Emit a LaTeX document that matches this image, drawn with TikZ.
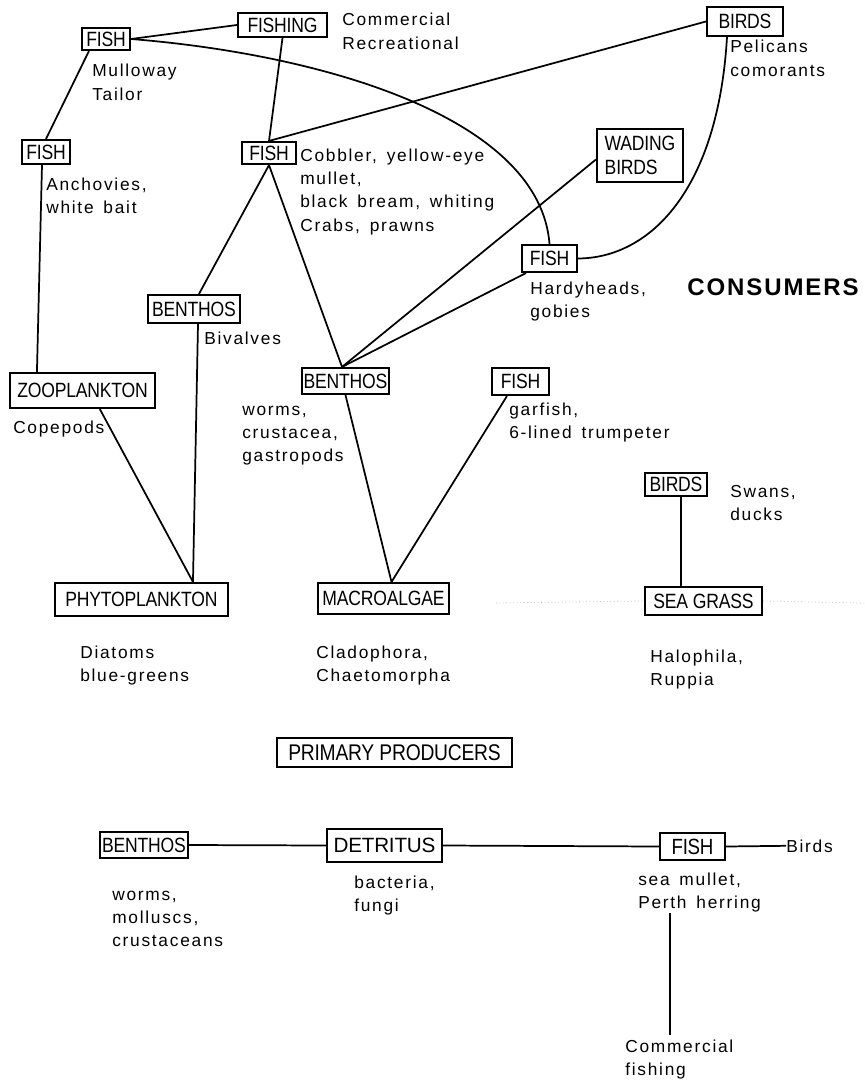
\documentclass[tikz,border=0pt]{standalone}
\usepackage{fontspec}
\setmainfont{Liberation Sans}
\newfontfamily\lblfont[LetterSpace=10,WordSpace=1.5]{Liberation Sans}
\newfontfamily\bxfont[LetterSpace=-1]{Liberation Sans}
\newfontfamily\bxcond[FakeStretch=0.85,LetterSpace=-1]{Liberation Sans}
\newfontfamily\bigfont[LetterSpace=8]{Liberation Sans}
\usetikzlibrary{calc}
\newcommand\lbl[1]{\begin{tabular}[t]{@{}l@{}}#1\end{tabular}}
\begin{document}
\begin{tikzpicture}[x=0.75pt,y=-0.75pt,
  bx/.style 2 args={draw, line width=1.6pt, inner sep=0pt,
    minimum width=#1*0.75pt, minimum height=#2*0.75pt,
    font=\bxcond\fontsize{15.5}{17}\selectfont},
  txt/.style={anchor=base west, inner sep=0pt,
    font=\lblfont\fontsize{13}{17.6}\selectfont},
  link/.style={line width=1.3pt},
  faint/.style={draw=black!25, line width=0.6pt, dotted}]
\fill[white] (0,0) rectangle (864,1081);
\useasboundingbox (0,0) rectangle (864,1081);

% boxes
\node[bx={48}{22}] (fishA) at (106,39) {FISH};
\node[bx={89}{24}] (fishing) at (282.5,25) {FISHING};
\node[bx={76}{29}] (birdsA) at (745,21.5) {BIRDS};
\node[bx={48}{24}] (fishB) at (46,152) {FISH};
\node[bx={54}{22}] (fishC) at (269,153) {FISH};
\node[bx={86}{53}, align=left, font=\bxcond\fontsize{15.5}{18.5}\selectfont] (wading) at (640,155.5) {WADING\\BIRDS};
\node[bx={55}{27}] (fishD) at (549.5,258.5) {FISH};
\node[bx={92}{28}] (benthA) at (194,309) {BENTHOS};
\node[bx={145}{35}] (zoo) at (82.5,390.5) {ZOOPLANKTON};
\node[bx={87}{26}] (benthB) at (345.5,381) {BENTHOS};
\node[bx={57}{27}] (fishE) at (520.5,381.5) {FISH};
\node[bx={62}{23}] (birdsB) at (676,484.5) {BIRDS};
\node[bx={173}{33}] (phyto) at (141.5,599.5) {PHYTOPLANKTON};
\node[bx={131}{31}] (macro) at (383.5,598.5) {MACROALGAE};
\node[bx={117}{28}] (seagrass) at (703.5,601) {SEA GRASS};
\node[bx={235}{29}, font=\bxcond\fontsize{17}{19}\selectfont] (primary) at (394.5,752.5) {PRIMARY PRODUCERS};
\node[bx={88}{26}] (benthC) at (144,845) {BENTHOS};
\node[bx={115}{33}, font=\bxfont\fontsize{15.5}{17}\selectfont] (detritus) at (384.5,845.5) {DETRITUS};
\node[bx={65}{27}, font=\bxcond\fontsize{16.5}{18}\selectfont] (fishF) at (692.5,846.5) {FISH};

% labels
\node[txt] (lMull) at (92,77) {\lbl{Mulloway\\Tailor}};
\node[txt] (lFishing) at (342,26) {\lbl{Commercial\\Recreational}};
\node[txt] (lAnch) at (46,190) {\lbl{Anchovies,\\white bait}};
\node[txt] (lCobb) at (300,161) {\lbl{Cobbler, yellow-eye\\mullet,\\black bream, whiting\\Crabs, prawns}};
\node[txt] (lPel) at (730,53) {\lbl{Pelicans\\comorants}};
\node[txt] (lHardy) at (530,294) {\lbl{Hardyheads,\\gobies}};
\node[txt] (lBiv) at (204,344) {Bivalves};
\node[txt] (lCope) at (13,433) {Copepods};
\node[txt] (lWorms) at (242,415) {\lbl{worms,\\crustacea,\\gastropods}};
\node[txt] (lGar) at (509,415) {\lbl{garfish,\\6-lined trumpeter}};
\node[txt] (lSwans) at (730,497) {\lbl{Swans,\\ducks}};
\node[txt] (lDiat) at (80,658) {\lbl{Diatoms\\blue-greens}};
\node[txt] (lClad) at (316,658) {\lbl{Cladophora,\\Chaetomorpha}};
\node[txt] (lHalo) at (650,662) {\lbl{Halophila,\\Ruppia}};
\node[txt, font=\bigfont\bfseries\fontsize{18}{20}\selectfont] (cons) at (687,295) {CONSUMERS};
\node[txt] (lWorms2) at (112,900) {\lbl{worms,\\molluscs,\\crustaceans}};
\node[txt] (lBact) at (354,888) {\lbl{bacteria,\\fungi}};
\node[txt] (lSea) at (638,885) {\lbl{sea mullet,\\Perth herring}};
\node[txt] (lBirds) at (786,852) {Birds};
\node[txt] (lComm) at (625,1052) {\lbl{Commercial\\fishing}};

% helper points
\coordinate (phytoTop) at ([xshift=38.6pt]phyto.north);
\coordinate (macroTop) at ([xshift=6pt]macro.north);
\coordinate (bBtop) at ([xshift=-2.6pt]benthB.north);
\coordinate (vt) at (670,913);
\coordinate (vb) at (670,1035);

% connectors
\draw[link] (fishA.east) -- (fishing.west);
\draw[link] (fishA.east) .. controls (330,55) and (540,120) .. (fishD.north);
\draw[link] (fishing.south) -- (fishC.north);
\draw[link] (fishC.north) -- (birdsA.west);
\draw[link] ([xshift=-13.5pt]birdsA.south) .. controls (718,190) and (650,258) .. (fishD.east);
\draw[link] (fishB.north) -- ([xshift=6pt]fishA.south west);
\draw[link] ([xshift=-3pt]fishB.south) -- ([xshift=21pt]zoo.north west);
\draw[link] ([xshift=13pt]zoo.south) -- (phytoTop);
\draw[link] (fishC.south) -- ([xshift=3.75pt]benthA.north);
\draw[link] (fishC.south) -- (bBtop);
\draw[link] ([xshift=3pt]benthA.south) -- (phytoTop);
\draw[link] (bBtop) -- ([yshift=-3pt]wading.west);
\draw[link] (bBtop) -- ([xshift=3.75pt]fishD.south west);
\draw[link] (benthB.south) -- (macroTop);
\draw[link] ([xshift=12pt]fishE.south west) -- (macroTop);
\draw[link] ([xshift=3.75pt]birdsB.south) -- ([xshift=3.75pt]birdsB.south |- seagrass.north);
\draw[link] (benthC.east) -- (detritus.west);
\draw[link] (detritus.east) -- (fishF.west);
\draw[link] (fishF.east) -- (lBirds.west);
\draw[link] (vt) -- (vb);
\draw[faint] (496,603) -- (seagrass.west);
\draw[faint] (seagrass.east) -- (864,603);
\end{tikzpicture}
\end{document}
